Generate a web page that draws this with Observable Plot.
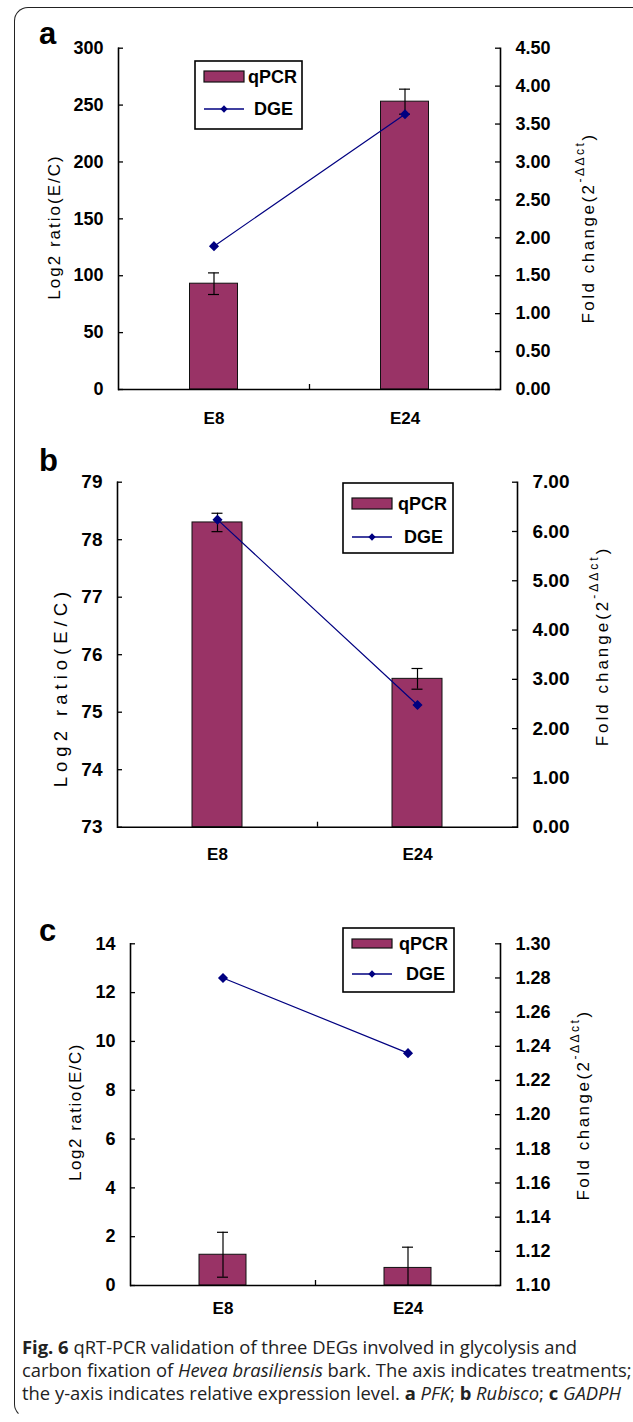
<!DOCTYPE html>
<html>
<head>
<meta charset="utf-8">
<script src="https://cdn.jsdelivr.net/npm/d3@7"></script>
<script src="https://cdn.jsdelivr.net/npm/@observablehq/plot@0.6"></script>
<style>
  html, body { margin: 0; padding: 0; background: #fff; overflow: hidden; }
  #page { position: relative; width: 633px; height: 1422px; overflow: hidden;
          font-family: Arial, "Liberation Sans", sans-serif; color: #000; }
  #frame { position: absolute; left: 14px; top: 7px; width: 700px; height: 1411px;
           border: 1.5px solid #222; border-right: none; border-bottom-color: transparent;
           border-radius: 14px; box-sizing: border-box; }
  .panel { position: absolute; left: 0; width: 633px; }
  .plabel { position: absolute; font-weight: bold; font-size: 31px; line-height: 1; }
  #caption { position: absolute; left: 22px; top: 1335px; width: 611px; white-space: nowrap;
             font-family: "Open Sans", "Noto Sans", sans-serif; font-size: 18.4px;
             line-height: 23px; color: #222; }
  #caption b { font-weight: 700; }
</style>
</head>
<body>
<div id="page">
  <div id="frame"></div>
  <div id="caption"><b>Fig. 6</b> qRT-PCR validation of three DEGs involved in glycolysis and<br>carbon fixation of <i>Hevea brasiliensis</i> bark. The axis indicates treatments;<br>the y-axis indicates relative expression level. <b>a</b> <i>PFK</i>; <b>b</b> <i>Rubisco</i>; <b>c</b> <i>GADPH</i></div>
</div>
<script>
// ---------------- data ----------------
const categories = ["E8", "E24"];
const legendLabels = ["qPCR", "DGE"];
const panelLetters = ["a", "b", "c"];
const leftAxisTitle = "Log2 ratio(E/C)";

// panel a (PFK)
const qpcrA = [93, 253];
const qpcrErrA = [9.5, 11];
const dgeA = [1.89, 3.63];
const leftTicksA = [0, 50, 100, 150, 200, 250, 300];
const rightTicksA = [0, 0.5, 1, 1.5, 2, 2.5, 3, 3.5, 4, 4.5];

// panel b (Rubisco)
const qpcrB = [78.30, 75.58];
const qpcrErrB = [0.16, 0.18];
const dgeB = [6.24, 2.48];
const leftTicksB = [73, 74, 75, 76, 77, 78, 79];
const rightTicksB = [0, 1, 2, 3, 4, 5, 6, 7];

// panel c (GADPH)
const qpcrC = [1.26, 0.72];
const qpcrErrC = [0.92, 0.85];
const dgeC = [1.28, 1.236];
const leftTicksC = [0, 2, 4, 6, 8, 10, 12, 14];
const rightTicksC = [1.10, 1.12, 1.14, 1.16, 1.18, 1.20, 1.22, 1.24, 1.26, 1.28, 1.30];

const BAR = "#993366", NAVY = "#000080";
const W = 633;

const panels = [
  {letter: panelLetters[0], q: qpcrA, err: qpcrErrA, dge: dgeA, lt: leftTicksA, rt: rightTicksA,
   top: 0, height: 440, ml: 118, mr: 133, mt: 47.7, mb: 51, barW: 48, fs: 18, xfs: 17, xpad: 22,
   letterPos: [39, 18], leftT: {cx: 54, cy: 227, ls: 2, fs: 17}, rightT: {cx: 588, cy: 228, ls: 2.5},
   legend: {x: 195, y: 61, w: 107, h: 68, sw: [10, 21], t1: 16, t2: 48, tx1: 53, tx2: 59}},
  {letter: panelLetters[1], q: qpcrB, err: qpcrErrB, dge: dgeB, lt: leftTicksB, rt: rightTicksB,
   top: 440, height: 430, ml: 117, mr: 116, mt: 41.7, mb: 43.3, barW: 50, fs: 19, xfs: 17, xpad: 21,
   letterPos: [39, 5], leftT: {cx: 60.5, cy: 247, ls: 5, fs: 18.5}, rightT: {cx: 601.5, cy: 206, ls: 3},
   legend: {x: 343, y: 43, w: 110, h: 70, sw: [15, 26], t1: 21, t2: 54, tx1: 55, tx2: 61}},
  {letter: panelLetters[2], q: qpcrC, err: qpcrErrC, dge: dgeC, lt: leftTicksC, rt: rightTicksC,
   top: 870, height: 460, ml: 130, mr: 133, mt: 73.3, mb: 45, barW: 47, fs: 18, xfs: 17, xpad: 16.5,
   letterPos: [39, 45], leftT: {cx: 75, cy: 242, ls: 1.5, fs: 17}, rightT: {cx: 583, cy: 235, ls: 2.5},
   legend: {x: 343, y: 58, w: 111, h: 64, sw: [11, 20], t1: 16, t2: 46, tx1: 56, tx2: 63}}
];

const page = document.getElementById("page");

function drawPanel(cfg) {
  const {q, err, dge, lt, rt, top, height, ml, mr, mt, mb, barW, fs} = cfg;
  const y0 = lt[0], y1 = lt[lt.length - 1];
  const r0 = rt[0], r1 = rt[rt.length - 1];
  const toL = v => y0 + (v - r0) / (r1 - r0) * (y1 - y0);
  const fromL = v => r0 + (v - y0) / (y1 - y0) * (r1 - r0);
  const data = categories.map((c, i) => ({cat: c, q: q[i], e: err[i], d: dge[i]}));
  const plotW = W - ml - mr;
  const plotH = height - mt - mb;
  const bw = plotW / categories.length;
  const ins = (bw - barW) / 2;
  const cap = (bw - 11) / 2;
  const tickLen = 5;

  const marks = [
    Plot.barY(data, {x: "cat", y1: () => y0, y2: "q", fill: BAR, stroke: "#111", strokeWidth: 1,
                     insetLeft: ins, insetRight: ins}),
    Plot.ruleX(data, {x: "cat", y1: d => Math.max(y0, d.q - d.e), y2: d => d.q + d.e,
                      stroke: "#000", strokeWidth: 1.2}),
    Plot.tickY(data, {x: "cat", y: d => d.q + d.e, insetLeft: cap, insetRight: cap,
                      stroke: "#000", strokeWidth: 1.2}),
    Plot.tickY(data.filter(d => d.q - d.e > y0), {x: "cat", y: d => d.q - d.e, insetLeft: cap,
                      insetRight: cap, stroke: "#000", strokeWidth: 1.2}),
    Plot.line(data, {x: "cat", y: d => toL(d.d), stroke: NAVY, strokeWidth: 1.2}),
    Plot.dot(data, {x: "cat", y: d => toL(d.d), symbol: "diamond2", r: 3.6, fill: NAVY, stroke: NAVY}),
    Plot.ruleY([y0], {stroke: "#000", strokeWidth: 1.6}),
    Plot.frame({anchor: "left", stroke: "#000", strokeWidth: 1.6}),
    Plot.frame({anchor: "right", stroke: "#000", strokeWidth: 1.6}),
    Plot.tickY(lt, {y: d => d, insetRight: plotW - tickLen, stroke: "#000", strokeWidth: 1.3}),
    Plot.tickY(rt.map(toL), {y: d => d, insetLeft: plotW - tickLen, stroke: "#000", strokeWidth: 1.3}),
    Plot.ruleX([0], {x: null, y1: () => y0, y2: () => y0 + (y1 - y0) * tickLen / plotH,
                     stroke: "#000", strokeWidth: 1.3}),
    Plot.axisX({tickSize: 0, tickPadding: cfg.xpad, fontSize: cfg.xfs, fontWeight: "bold", label: null}),
    Plot.axisY({anchor: "left", ticks: lt, tickSize: 0, tickPadding: 15, tickFormat: d => String(d),
                fontSize: fs, fontWeight: "bold", label: null}),
    Plot.axisY({anchor: "right", ticks: rt.map(toL), tickSize: 0, tickPadding: 15,
                tickFormat: d => fromL(d).toFixed(2), fontSize: fs, fontWeight: "bold", label: null})
  ];

  const svgEl = Plot.plot({
    width: W, height,
    marginLeft: ml, marginRight: mr, marginTop: mt, marginBottom: mb,
    x: {domain: categories, padding: 0, axis: null},
    y: {domain: [y0, y1], axis: null},
    style: {fontFamily: 'Arial, "Liberation Sans", sans-serif', color: "#000", background: "transparent", overflow: "visible"},
    marks
  });

  const holder = document.createElement("div");
  holder.className = "panel";
  holder.style.top = top + "px";
  holder.style.height = height + "px";
  holder.appendChild(svgEl);
  page.appendChild(holder);

  const svg = d3.select(svgEl);
  // left axis title
  svg.append("text")
    .attr("transform", `translate(${cfg.leftT.cx},${cfg.leftT.cy}) rotate(-90)`)
    .attr("text-anchor", "middle").attr("dominant-baseline", "central")
    .attr("font-size", cfg.leftT.fs).attr("letter-spacing", cfg.leftT.ls).attr("fill", "#000")
    .text(leftAxisTitle);
  // right axis title with superscript
  const rt2 = svg.append("text")
    .attr("transform", `translate(${cfg.rightT.cx},${cfg.rightT.cy}) rotate(-90)`)
    .attr("text-anchor", "middle").attr("dominant-baseline", "central")
    .attr("font-size", 17).attr("letter-spacing", cfg.rightT.ls).attr("fill", "#000");
  rt2.append("tspan").text("Fold change(2");
  rt2.append("tspan").attr("dy", -8).attr("font-size", 12).text("-ΔΔct");
  rt2.append("tspan").attr("dy", 8).text(")");

  // legend
  const L = cfg.legend;
  const g = svg.append("g").attr("transform", `translate(${L.x},${L.y})`).attr("text-anchor", "start");
  g.append("rect").attr("width", L.w).attr("height", L.h).attr("fill", "#fff")
    .attr("stroke", "#000").attr("stroke-width", 1.6);
  g.append("rect").attr("x", 9).attr("y", L.sw[0]).attr("width", 40).attr("height", L.sw[1] - L.sw[0])
    .attr("fill", BAR).attr("stroke", "#111").attr("stroke-width", 1.2);
  g.append("text").attr("x", L.tx1).attr("y", L.t1).attr("dominant-baseline", "central")
    .attr("text-anchor", "start")
    .attr("font-size", 18).attr("font-weight", "bold").attr("fill", "#000").text(legendLabels[0]);
  g.append("line").attr("x1", 9).attr("x2", 49).attr("y1", L.t2).attr("y2", L.t2)
    .attr("stroke", NAVY).attr("stroke-width", 1.3);
  g.append("path").attr("d", d3.symbol(d3.symbolDiamond2, 34)())
    .attr("transform", `translate(29,${L.t2})`).attr("fill", NAVY);
  g.append("text").attr("x", L.tx2).attr("y", L.t2).attr("dominant-baseline", "central")
    .attr("text-anchor", "start")
    .attr("font-size", 18).attr("font-weight", "bold").attr("fill", "#000").text(legendLabels[1]);

  // panel letter
  const lab = document.createElement("div");
  lab.className = "plabel";
  lab.style.left = cfg.letterPos[0] + "px";
  lab.style.top = (top + cfg.letterPos[1]) + "px";
  lab.textContent = cfg.letter;
  page.appendChild(lab);
}

panels.forEach(drawPanel);
</script>
</body>
</html>
